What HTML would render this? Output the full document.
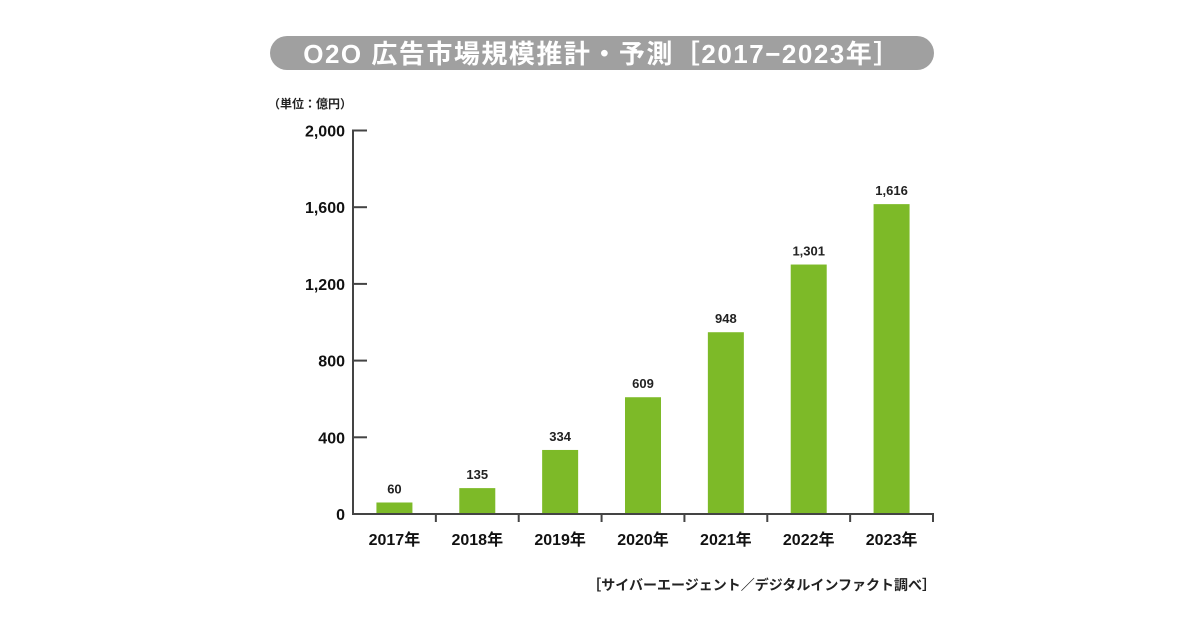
<!DOCTYPE html>
<html><head><meta charset="utf-8"><style>
html,body{margin:0;padding:0;background:#fff;}
svg{display:block;font-family:"Liberation Sans","Noto Sans CJK JP",sans-serif;}
</style></head><body>
<svg id="chart" width="1200" height="630" viewBox="0 0 1200 630">
<rect x="270" y="36" width="664" height="34" rx="17" fill="#a0a0a0"/>
<text x="602" y="63" text-anchor="middle" font-size="26" font-weight="bold" fill="#fff" letter-spacing="1.5">O2O 広告市場規模推計・予測［2017−2023年］</text>
<text x="268" y="108" font-size="12" font-weight="bold" fill="#222">（単位：億円）</text>
<text x="936" y="590" text-anchor="end" font-size="14" font-weight="bold" fill="#222">［サイバーエージェント／デジタルインファクト調べ］</text>
<g id="plot"></g>
</svg>
<script>
const categories = ["2017年","2018年","2019年","2020年","2021年","2022年","2023年"];
const values = [60,135,334,609,948,1301,1616];
const yTicks = [0,400,800,1200,1600,2000];
const yTickLabels = ["0","400","800","1,200","1,600","2,000"];
const valueLabels = ["60","135","334","609","948","1,301","1,616"];

const NS="http://www.w3.org/2000/svg";
const g=document.getElementById('plot');
const x0=353,x1=933,y0=514,yTop=130.5,yMax=2000;
const bw=(x1-x0)/categories.length;
const y=v=>y0-(v/yMax)*(y0-yTop);
const xc=i=>x0+bw*(i+0.5);
function mk(t,a){const e=document.createElementNS(NS,t);for(const k in a)e.setAttribute(k,a[k]);g.appendChild(e);return e;}

values.forEach((v,i)=>{
  const r=mk('rect',{x:xc(i)-18,y:y(v),width:36,height:y0-y(v),fill:'#7dba28'});
  
  
  const t=mk('text',{x:xc(i),y:y(v)-9,'text-anchor':'middle','font-size':13,'font-weight':'bold',fill:'#222'});
  t.textContent=valueLabels[i];
  
  
  const c=mk('text',{x:xc(i),y:545,'text-anchor':'middle','font-size':16,'font-weight':'bold',fill:'#111'});
  c.textContent=categories[i];
  
  
});
for(let i=1;i<=categories.length;i++){
  const tk=mk('line',{x1:x0+bw*i,x2:x0+bw*i,y1:y0,y2:y0+8,stroke:'#444','stroke-width':2});
  
  
}
yTicks.forEach((v,i)=>{
  const l=mk('line',{x1:x0,x2:x0+14,y1:y(v),y2:y(v),stroke:'#444','stroke-width':2});
  
  
  const t=mk('text',{x:x0-8,y:y(v)+6,'text-anchor':'end','font-size':16,'font-weight':'bold',fill:'#111'});
  t.textContent=yTickLabels[i];
  
  
});
const ya=mk('line',{x1:x0,x2:x0,y1:yTop-1,y2:y0+1,stroke:'#444','stroke-width':2});


const xa=mk('line',{x1:x0-1,x2:x1+1,y1:y0,y2:y0,stroke:'#444','stroke-width':2});


</script>
</body></html>
